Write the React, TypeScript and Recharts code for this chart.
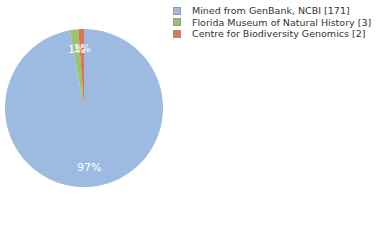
import { Cell, Pie, PieChart } from "recharts";

const sources = [
  "Mined from GenBank, NCBI",
  "Florida Museum of Natural History",
  "Centre for Biodiversity Genomics",
];
const counts = [171, 3, 2];
const colors = ["#9dbbe0", "#9bc46c", "#df7352"];

const total = counts.reduce((a, b) => a + b, 0);
const data = sources.map((name, i) => ({ name, value: counts[i] }));

const RAD = Math.PI / 180;

function renderLabel(props: any) {
  const { cx, cy, midAngle, outerRadius, value } = props;
  const r = outerRadius * 0.75;
  const x = cx + r * Math.cos(-midAngle * RAD);
  const y = cy + r * Math.sin(-midAngle * RAD);
  return (
    <text
      x={x}
      y={y}
      fill="#ffffff"
      fontSize={11}
      fontFamily="DejaVu Sans"
      textAnchor="middle"
      dominantBaseline="central"
    >
      {Math.floor((value / total) * 100)}%
    </text>
  );
}

export default function App() {
  return (
    <div style={{ position: "absolute", left: 0, top: 0, width: 380, height: 240 }}>
      <PieChart width={380} height={240} margin={{ top: 0, right: 0, bottom: 0, left: 0 }}>
        <Pie
          data={data}
          dataKey="value"
          nameKey="name"
          cx={84}
          cy={108}
          outerRadius={79}
          startAngle={90}
          endAngle={-270}
          stroke="none"
          label={renderLabel}
          labelLine={false}
          isAnimationActive={false}
        >
          {data.map((d, i) => (
            <Cell key={d.name} fill={colors[i]} />
          ))}
        </Pie>
      </PieChart>
      <div
        style={{
          position: "absolute",
          left: 173,
          top: 5,
          fontFamily: "DejaVu Sans",
          fontSize: 9.5,
          color: "#333",
        }}
      >
        {data.map((d, i) => (
          <div
            key={d.name}
            style={{ display: "flex", alignItems: "center", height: 11.5, whiteSpace: "nowrap" }}
          >
            <span
              style={{
                display: "inline-block",
                width: 6,
                height: 6,
                background: colors[i],
                border: "1px solid #999",
                marginRight: 11,
              }}
            />
            {d.name} [{d.value}]
          </div>
        ))}
      </div>
    </div>
  );
}
